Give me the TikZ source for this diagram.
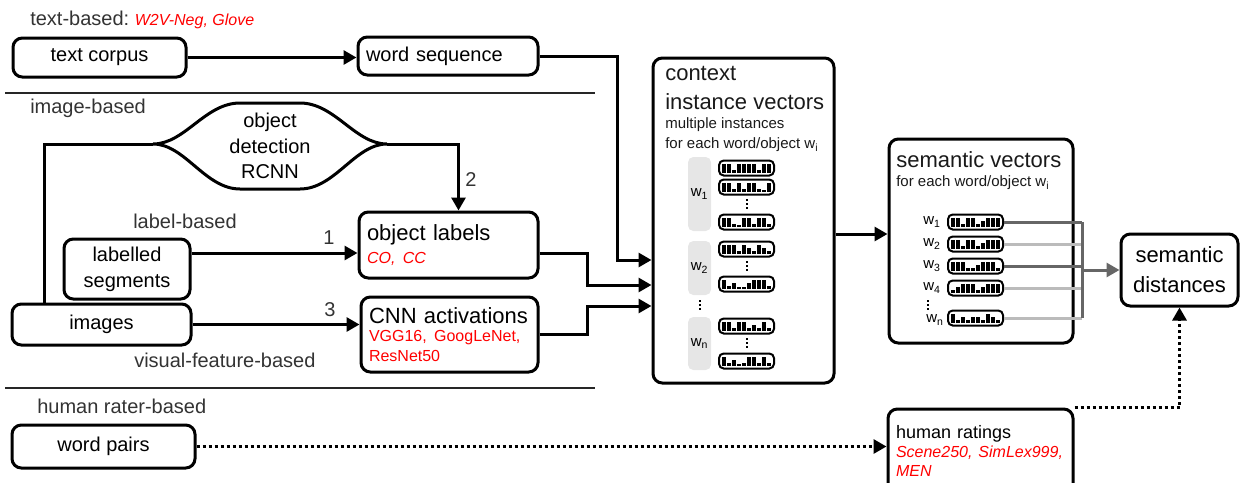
\documentclass[tikz,border=0pt]{standalone}
\usepackage{fontspec}
\setmainfont{Liberation Sans}
\usetikzlibrary{arrows.meta,calc}
\frenchspacing
\newcommand\szN{\fontsize{15}{18}\selectfont}
\newcommand\szL{\fontsize{16.5}{19}\selectfont}
\newcommand\szS{\fontsize{11.25}{14}\selectfont}
\newcommand\szR{\fontsize{12}{15}\selectfont}
\newcommand\szH{\fontsize{13.5}{15}\selectfont}
\definecolor{dg}{HTML}{666666}
\definecolor{lg}{HTML}{BBBBBB}
\definecolor{sec}{HTML}{333333}
\definecolor{rd}{HTML}{FF0000}
\definecolor{pan}{HTML}{E6E6E6}
\begin{document}
\begin{tikzpicture}[x=0.75pt,y=-0.75pt,
 box/.style={draw,line width=2.25pt,rounded corners=7pt,inner sep=0pt},
 lbox/.style={box,inner xsep=6pt,align=left},
 conn/.style={line width=2.25pt},
 arr/.style={conn,-{Triangle[length=9.75pt,width=10.5pt]}},
 dotarr/.style={line width=2.25pt,dash pattern=on 2.25pt off 2.25pt,-{Triangle[length=9.75pt,width=10.5pt]}},
 seclbl/.style={text=sec,font=\szN,anchor=west,inner sep=0pt},
 numlbl/.style={text=sec,font=\szN,inner sep=0pt},
 ttl/.style={anchor=west,inner sep=0pt,text=black!90},
 panel/.style={fill=pan,rounded corners=4pt,minimum width=17.25pt,inner sep=0pt,font=\szS},
 vecbox/.style={draw,line width=1.5pt,rounded corners=3.5pt,minimum width=41.25pt,minimum height=11.25pt,inner sep=0pt},
 mvec/.pic={\node[vecbox] (-b) at (0,0) {};
   \foreach \h [count=\i] in {#1} {\fill (-27.5+\i*5-1.7,4.8) rectangle (-27.5+\i*5+1.7,4.8-\h);}},
 vd/.pic={\foreach \k in {-4,0,4} {\fill (-1,\k-1.2) rectangle (1,\k+1.2);}},
]
\useasboundingbox (0,0) rectangle (1241,482);

% section labels and separators
\node[seclbl] (t1) at (30,20) {text-based: {\color{rd}\itshape\fontsize{12}{14}\selectfont W2V-Neg, Glove}};
\draw[line width=1.2pt,black!85] (5,93) -- (595,93);
\node[seclbl] (t2) at (30,108) {image-based};
\node[seclbl] (t3) at (133,221) {label-based};
\node[seclbl] (t4) at (134,360) {visual-feature-based};
\draw[line width=1.2pt,black!85] (5,388) -- (595,388);
\node[seclbl] (t5) at (37,406) {human rater-based};

% boxes
\node[box,minimum width=129.75pt,minimum height=29.25pt,font=\szN] (tc) at (99.5,57.5) {text corpus};
\node[lbox,text width=123pt,minimum height=28.5pt,font=\szN] (ws) at (448,56) {word sequence};
\node[lbox,text width=122.25pt,minimum height=49.5pt,font=\szL] (ol) at (448.5,245) {object labels\\[-2pt]\color{rd}\itshape\szR CO, CC};
\node[lbox,text width=120.75pt,minimum height=56.25pt,font=\szL] (cnn) at (449.5,334.5) {CNN activations\\[-1pt]\color{rd}\szR VGG16, GoogLeNet,\\[-4pt]ResNet50};
\node[box,minimum width=94.5pt,minimum height=45pt,align=center,font=\fontsize{15}{19.5}\selectfont] (ls) at (127,269) {labelled\\segments};
\node[box,minimum width=134.25pt,minimum height=30.75pt,font=\szN] (im) at (101.5,324.5) {images};
\node[box,minimum width=137.25pt,minimum height=32.25pt,font=\szN] (wp) at (103.5,446.5) {word pairs};
\node[lbox,text width=126.75pt,minimum height=63pt,font=\szH] (hr) at (980.5,451) {human ratings\\[-0.5pt]\color{rd}\itshape\szR Scene250, SimLex999,\\[-1pt]MEN};
\node[box,minimum width=135.75pt,minimum height=243.75pt] (ctx) at (743.5,220.5) {};
\node[box,minimum width=138pt,minimum height=153pt] (sv) at (981,241) {};
\node[box,minimum width=87.75pt,minimum height=54pt,align=center,font=\fontsize{16.5}{22.5}\selectfont] (sd) at (1179.5,270) {semantic\\distances};

% object detection lens
\coordinate (odL) at (153,144);
\coordinate (odR) at (387,144);
\draw[line width=2.25pt] (odL) .. controls (185,144) and (205,103) .. (240,103) -- (300,103) .. controls (335,103) and (355,144) .. (odR)
  .. controls (355,144) and (335,189) .. (300,189) -- (240,189) .. controls (205,189) and (185,144) .. (odL) -- cycle;
\node[align=center,font=\fontsize{15}{19}\selectfont,inner sep=0pt] (od) at (270,146) {object\\detection\\RCNN};

% context instance vectors content
\node[ttl,font=\szL] (c1) at (665,73) {context};
\node[ttl,font=\szL] (c2) at (665,102) {instance vectors};
\node[ttl,font=\szS] (c3) at (665,125) {multiple instances};
\node[ttl,font=\szS] (c4) at (665,145) {for each word/object w\textsubscript{i}};
\node[panel,minimum height=55.5pt] (p1) at (699.5,194) {w\textsubscript{1}};
\node[panel,minimum height=40.5pt] (p2) at (699.5,268) {w\textsubscript{2}};
\node[panel,minimum height=39.75pt] (p3) at (699.5,343.5) {w\textsubscript{n}};
\pic at (700,305) {vd};
\pic (c11) at (746.5,168) {mvec={9,9,3,9,9,9,9,3,9,9}};
\pic (c12) at (746.5,187) {mvec={9,9,3,9,3,9,9,3,2,9}};
\pic at (746.5,204) {vd};
\pic (c13) at (746.5,222) {mvec={9,9,3,2,9,9,3,9,9,3}};
\pic (c21) at (746.5,249) {mvec={9,9,9,3,9,6,3,9,6,3}};
\pic at (746.5,266) {vd};
\pic (c22) at (746.5,284) {mvec={9,3,6,2,2,6,9,9,9,3}};
\pic (c31) at (746.5,326) {mvec={9,9,3,9,9,3,6,3,9,3}};
\pic at (746.5,343) {vd};
\pic (c32) at (746.5,361) {mvec={9,3,6,2,3,9,9,3,9,3}};

% semantic vectors content
\node[ttl,font=\szL] (s0) at (896,160) {semantic vectors};
\node[ttl,font=\szS] (s00) at (896,183) {for each word/object w\textsubscript{i}};
\node[font=\szS,inner sep=0pt] (l1) at (932,222) {w\textsubscript{1}};
\node[font=\szS,inner sep=0pt] (l2) at (932,244) {w\textsubscript{2}};
\node[font=\szS,inner sep=0pt] (l3) at (932,266) {w\textsubscript{3}};
\node[font=\szS,inner sep=0pt] (l4) at (932,288) {w\textsubscript{4}};
\pic at (928,305) {vd};
\node[font=\szS,inner sep=0pt] (l5) at (935,320) {w\textsubscript{n}};
\pic (s1) at (975.5,222) {mvec={9,9,3,9,9,3,6,9,9,9}};
\pic (s2) at (975.5,244) {mvec={9,9,3,9,9,3,6,9,9,9}};
\pic (s3) at (975.5,266) {mvec={9,9,9,3,3,6,9,9,9,3}};
\pic (s4) at (975.5,288) {mvec={3,6,9,9,9,3,6,9,9,9}};
\pic (s5) at (975.5,318) {mvec={9,3,6,3,6,6,3,9,6,3}};
\coordinate (bus) at (1082,270);
\draw[conn,lg] (s2-b.east) -- (s2-b.east -| bus);
\draw[conn,lg] (s4-b.east) -- (s4-b.east -| bus);
\draw[conn,lg] (s5-b.east) -- (s5-b.east -| bus);
\draw[conn,dg] (s1-b.east) -- (s1-b.east -| bus);
\draw[conn,dg] (s3-b.east) -- (s3-b.east -| bus);
\draw[conn,dg] (bus |- s1-b.east) -- (bus |- s5-b.east);
\draw[conn,dg,-{Triangle[length=9.75pt,width=10.5pt]}] (bus) -- (bus -| sd.west);

% connectors
\draw[arr] (tc.east) -- (tc.east -| ws.west);
\coordinate (j1) at (617,260);
\coordinate (j2) at (587,285);
\coordinate (j3) at (587,306);
\draw[arr] (ws.east) -| (j1) -- (j1 -| ctx.west);
\draw[arr] ([yshift=-6pt]ol.east) -| (j2) -- (j2 -| ctx.west);
\draw[arr] (cnn.east) -| (j3) -- (j3 -| ctx.west);
\draw[conn] ([xshift=25.5pt]im.north west) |- (odL);
\draw[arr] (odR) -| ([xshift=7.5pt]ol.north);
\draw[arr] ([yshift=12pt]ls.east) -- ([yshift=12pt]ls.east -| ol.west);
\draw[arr] (im.east) -- (im.east -| cnn.west);
\node[numlbl] (n1) at (329,238) {1};
\node[numlbl] (n2) at (471,180) {2};
\node[numlbl] (n3) at (330,310) {3};
\coordinate (ya) at (0,234);
\draw[arr] (ctx.east |- ya) -- (ya -| sv.west);
\draw[dotarr] (wp.east) -- (wp.east -| hr.west);
\draw[dotarr] (hr.north east) -| (sd.south);
\end{tikzpicture}
\end{document}
